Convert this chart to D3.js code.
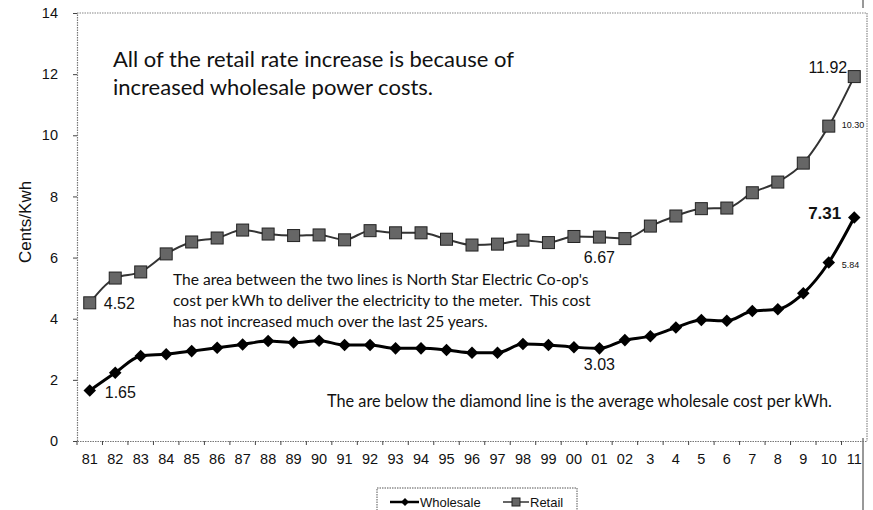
<!DOCTYPE html>
<html>
<head>
<meta charset="utf-8">
<script src="https://cdn.jsdelivr.net/npm/d3@7"></script>
<style>
  body { margin: 0; background: #fff; }
  svg text { font-family: Arial, "Liberation Sans", sans-serif; fill: #111; }
  .note { font-family: Lato, "Open Sans", sans-serif; }
</style>
</head>
<body>
<div id="chart"></div>
<script>
// years on the x axis
var years = ["81","82","83","84","85","86","87","88","89","90","91","92","93","94","95",
             "96","97","98","99","00","01","02","3","4","5","6","7","8","9","10","11"];

// cents per kWh
var retail = [4.52, 5.33, 5.53, 6.12, 6.51, 6.64, 6.90, 6.77, 6.72, 6.74, 6.58, 6.88, 6.81, 6.81, 6.60,
              6.41, 6.44, 6.57, 6.49, 6.69, 6.67, 6.62, 7.03, 7.36, 7.60, 7.62, 8.12, 8.47, 9.09, 10.30, 11.92];
var wholesale = [1.65, 2.23, 2.78, 2.84, 2.94, 3.05, 3.16, 3.27, 3.22, 3.28, 3.14, 3.14, 3.03, 3.03, 2.98,
                 2.89, 2.89, 3.17, 3.14, 3.07, 3.03, 3.30, 3.43, 3.71, 3.96, 3.93, 4.25, 4.31, 4.83, 5.84, 7.31];

var yTicks = [0, 2, 4, 6, 8, 10, 12, 14];

var width = 873, height = 510;
var margin = {top: 13, right: 6, bottom: 69, left: 77};

var svg = d3.select("#chart").append("svg")
    .attr("width", width)
    .attr("height", height);

var x = d3.scaleBand()
    .domain(years)
    .range([margin.left, width - margin.right]);

var y = d3.scaleLinear()
    .domain([0, 14])
    .range([height - margin.bottom, margin.top]);

var cx = function(i) { return x(years[i]) + x.bandwidth() / 2; };

// plot frame (top and right edges, dotted like the scan)
svg.append("path")
    .attr("d", "M" + margin.left + "," + y(14) + "H" + (width - margin.right) + "V" + y(0))
    .attr("fill", "none")
    .attr("stroke", "#888")
    .attr("stroke-width", 1.2)
    .attr("stroke-dasharray", "1.5,1");

// page line on the right
svg.append("line")
    .attr("x1", 863).attr("x2", 863)
    .attr("y1", y(0) - 3).attr("y2", height)
    .attr("stroke", "#333");
svg.append("line")
    .attr("x1", 863).attr("x2", 863)
    .attr("y1", 0).attr("y2", 8)
    .attr("stroke", "#333");

// y axis
var yAxis = svg.append("g")
    .attr("transform", "translate(" + margin.left + ",0)")
    .call(d3.axisLeft(y).tickValues(yTicks).tickSize(4).tickPadding(15));
yAxis.selectAll("text").attr("font-size", 14.5);

// x axis, ticks on the band boundaries
var xAxis = svg.append("g")
    .attr("transform", "translate(0," + y(0) + ")")
    .call(d3.axisBottom(x).tickSize(0).tickPadding(13));
xAxis.selectAll("text").attr("font-size", 14.5);
xAxis.selectAll(".bnd")
    .data(years)
  .enter().append("line")
    .attr("class", "bnd")
    .attr("x1", function(d) { return x(d); })
    .attr("x2", function(d) { return x(d); })
    .attr("y1", 0).attr("y2", 4)
    .attr("stroke", "#444");

svg.selectAll(".domain").attr("stroke", "#777").attr("stroke-width", 1.2).attr("stroke-dasharray", "1.5,1");
svg.selectAll(".tick line").attr("stroke", "#444");

svg.append("text")
    .attr("transform", "translate(31,222) rotate(-90)")
    .attr("text-anchor", "middle")
    .attr("font-size", 17)
    .text("Cents/Kwh");

// lines
var line = d3.line()
    .x(function(d, i) { return cx(i); })
    .y(function(d) { return y(d); })
    .curve(d3.curveMonotoneX);

svg.append("path")
    .datum(retail)
    .attr("d", line)
    .attr("fill", "none")
    .attr("stroke", "#333")
    .attr("stroke-width", 2);

svg.append("path")
    .datum(wholesale)
    .attr("d", line)
    .attr("fill", "none")
    .attr("stroke", "#000")
    .attr("stroke-width", 3);

// markers
svg.selectAll(".sq")
    .data(retail)
  .enter().append("rect")
    .attr("class", "sq")
    .attr("x", function(d, i) { return cx(i) - 6; })
    .attr("y", function(d) { return y(d) - 6; })
    .attr("width", 12).attr("height", 12)
    .attr("fill", "#666")
    .attr("stroke", "#222")
    .attr("stroke-width", 1);

var diamond = d3.symbol().type(d3.symbolDiamond2).size(100);
svg.selectAll(".dm")
    .data(wholesale)
  .enter().append("path")
    .attr("class", "dm")
    .attr("transform", function(d, i) { return "translate(" + cx(i) + "," + y(d) + ")"; })
    .attr("d", diamond)
    .attr("fill", "#000");

// value labels
function valueLabel(data, i, dx, dy, size, anchor, bold) {
  svg.append("text")
    .attr("x", cx(i) + dx)
    .attr("y", y(data[i]) + dy)
    .attr("font-size", size)
    .attr("font-weight", bold ? "bold" : "normal")
    .attr("text-anchor", anchor)
    .text(data[i].toFixed(2));
}
valueLabel(retail, 0, 14, 6, 16, "start");
valueLabel(wholesale, 0, 15, 7, 16, "start");
valueLabel(retail, 20, 0, 25.5, 16, "middle");
valueLabel(wholesale, 20, 0, 21.5, 16, "middle");
valueLabel(retail, 30, -7, -4, 16, "end");
valueLabel(retail, 29, 13, 2, 9, "start");
valueLabel(wholesale, 30, -13, 1.5, 17, "end", true);
valueLabel(wholesale, 29, 13, 5.5, 9, "start");

// notes
var title = svg.append("text").attr("class", "note").attr("font-size", 22);
title.append("tspan").attr("x", 113).attr("y", 67).text("All of the retail rate increase is because of");
title.append("tspan").attr("x", 113).attr("y", 95).text("increased wholesale power costs.");

var mid = svg.append("text").attr("class", "note").attr("font-size", 15.6).attr("xml:space", "preserve");
["The area between the two lines is North Star Electric Co-op's",
 "cost per kWh to deliver the electricity to the meter.  This cost",
 "has not increased much over the last 25 years."].forEach(function(t, i) {
  mid.append("tspan").attr("x", 173).attr("y", 285 + i * 21).text(t);
});

svg.append("text").attr("class", "note")
    .attr("x", 327).attr("y", 407)
    .attr("font-size", 16.3)
    .text("The are below the diamond line is the average wholesale cost per kWh.");

// legend
var lg = svg.append("g").attr("transform", "translate(377,488)");
lg.append("path")
    .attr("d", "M0,25V0H200V25")
    .attr("fill", "none")
    .attr("stroke", "#555")
    .attr("stroke-dasharray", "1.5,1");
lg.append("line").attr("x1", 13).attr("x2", 42).attr("y1", 14).attr("y2", 14)
    .attr("stroke", "#000").attr("stroke-width", 2.5);
lg.append("path").attr("transform", "translate(28,14)")
    .attr("d", d3.symbol().type(d3.symbolDiamond2).size(40)).attr("fill", "#000");
lg.append("text").attr("x", 43).attr("y", 19).attr("font-size", 13).text("Wholesale");
lg.append("line").attr("x1", 126).attr("x2", 152).attr("y1", 14).attr("y2", 14)
    .attr("stroke", "#333").attr("stroke-width", 1.5);
lg.append("rect").attr("x", 135).attr("y", 10).attr("width", 8).attr("height", 8)
    .attr("fill", "#666").attr("stroke", "#222");
lg.append("text").attr("x", 153).attr("y", 19).attr("font-size", 13).text("Retail");
</script>
</body>
</html>
